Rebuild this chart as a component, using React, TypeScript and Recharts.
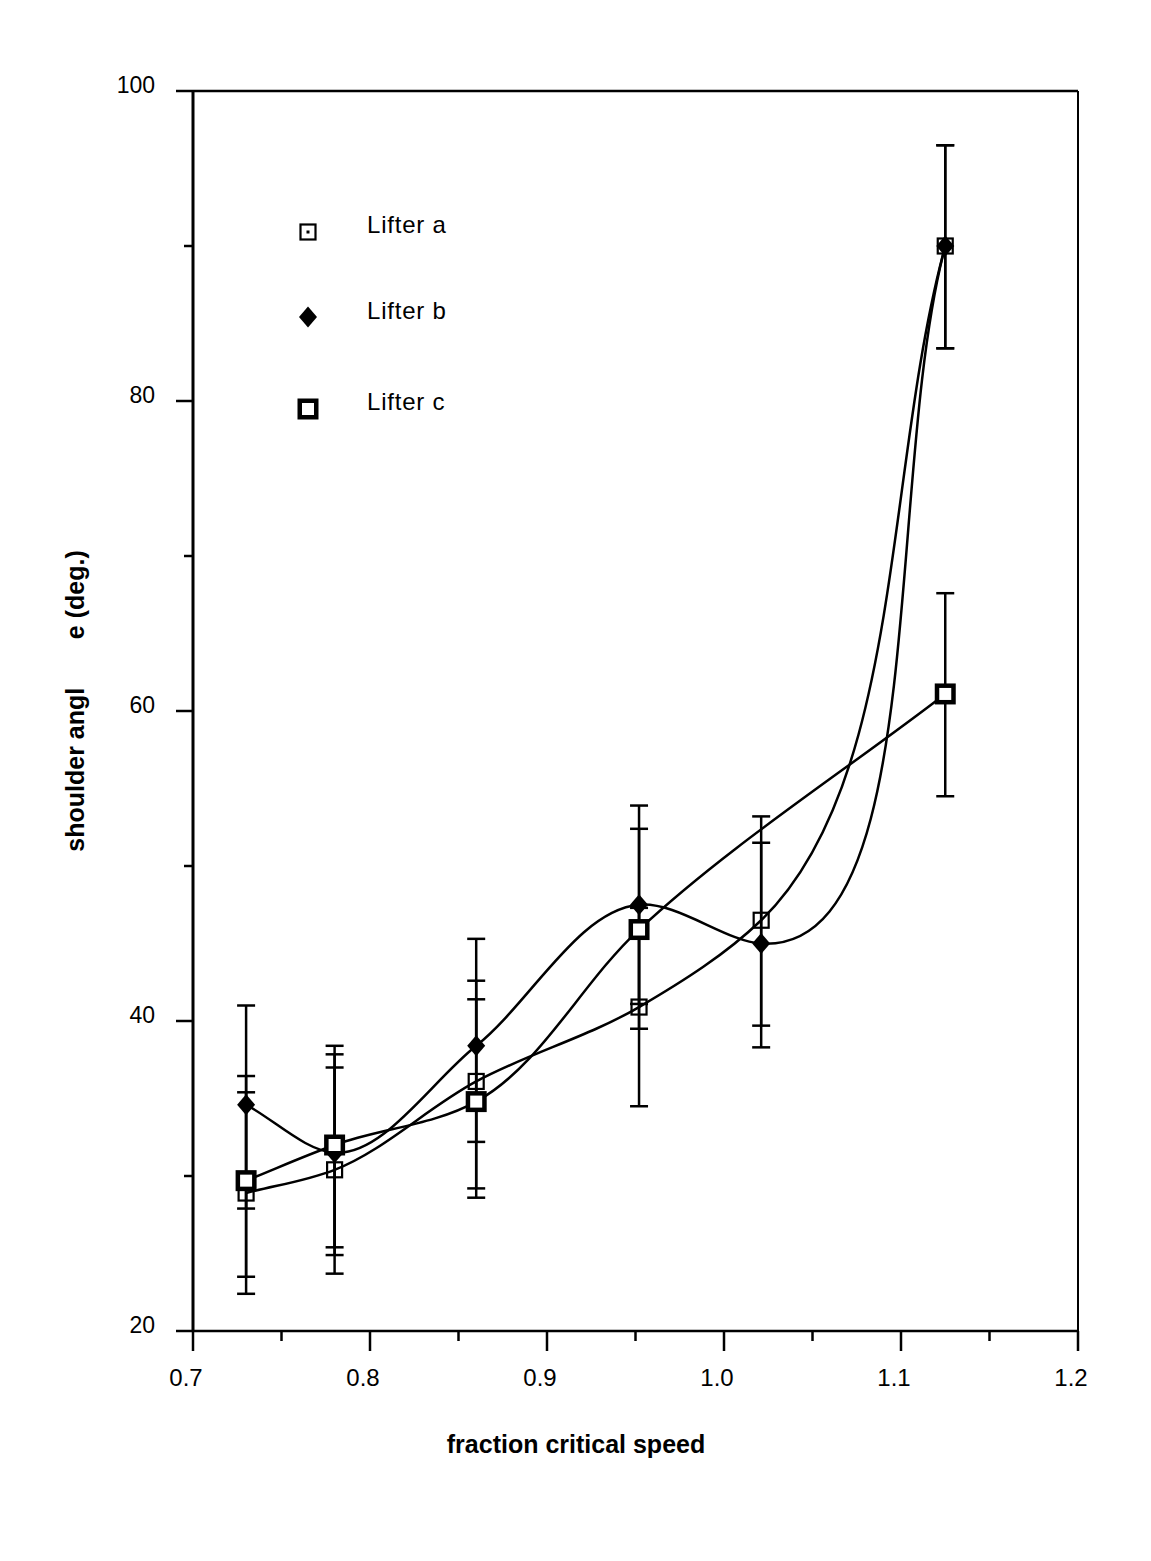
import React from 'react';
import {
  ComposedChart,
  Line,
  XAxis,
  YAxis,
  ErrorBar,
  ReferenceLine,
  Legend,
  Label,
} from 'recharts';

// Fraction of critical speed at which each lifter was measured
const speeds = [0.73, 0.78, 0.86, 0.952, 1.021, 1.125];

// Shoulder angle (deg.) with lower / upper error limits
const lifterA = [28.9, 30.4, 36.1, 40.9, 46.5, 90.0];
const lifterALow = [22.4, 23.7, 29.2, 34.5, 39.7, 83.4];
const lifterAHigh = [35.4, 37.0, 42.6, 47.3, 53.2, 96.5];

const lifterB = [34.6, 31.5, 38.4, 47.5, 45.0, 90.0];
const lifterBLow = [27.9, 24.9, 32.2, 41.1, 38.3, 83.4];
const lifterBHigh = [41.0, 37.85, 45.3, 53.9, 51.5, 96.5];

const lifterC = [29.7, 32.0, 34.8, 45.9, null, 61.1];
const lifterCLow = [23.5, 25.4, 28.6, 39.5, null, 54.5];
const lifterCHigh = [36.45, 38.4, 41.4, 52.4, null, 67.6];

const seriesNames = ['Lifter a', 'Lifter b', 'Lifter c'];

const xTicks = [0.7, 0.75, 0.8, 0.85, 0.9, 0.95, 1.0, 1.05, 1.1, 1.15, 1.2];
const yTicks = [20, 30, 40, 50, 60, 70, 80, 90, 100];

const FONT = '"Liberation Sans", Arial, Helvetica, sans-serif';

const errPair = (v: number | null, lo: number | null, hi: number | null) =>
  v == null || lo == null || hi == null ? null : [v - lo, hi - v];

const data = speeds.map((s, i) => ({
  speed: s,
  a: lifterA[i],
  aErr: errPair(lifterA[i], lifterALow[i], lifterAHigh[i]),
  b: lifterB[i],
  bErr: errPair(lifterB[i], lifterBLow[i], lifterBHigh[i]),
  c: lifterC[i],
  cErr: errPair(lifterC[i], lifterCLow[i], lifterCHigh[i]),
}));

// Catmull-Rom smoothing through the projected points (knot exponent ALPHA),
// with reflected phantom points at both ends.
const smoothSpline = (context: any) => {
  let pts: [number, number][] = [];
  const ALPHA = 0.9;
  return {
    areaStart() {},
    areaEnd() {},
    lineStart() {
      pts = [];
    },
    point(x: number, y: number) {
      pts.push([+x, +y]);
    },
    lineEnd() {
      const n = pts.length;
      if (!n) return;
      context.moveTo(pts[0][0], pts[0][1]);
      if (n === 1) return;
      if (n === 2) {
        context.lineTo(pts[1][0], pts[1][1]);
        return;
      }
      const reflect = (p: [number, number], q: [number, number]): [number, number] => [2 * p[0] - q[0], 2 * p[1] - q[1]];
      const dist = (p: [number, number], q: [number, number]) =>
        Math.max(1e-6, Math.pow(Math.hypot(q[0] - p[0], q[1] - p[1]), ALPHA));
      for (let i = 0; i < n - 1; i++) {
        const p0 = i > 0 ? pts[i - 1] : reflect(pts[0], pts[1]);
        const p1 = pts[i];
        const p2 = pts[i + 1];
        const p3 = i + 2 < n ? pts[i + 2] : reflect(pts[n - 1], pts[n - 2]);
        const d01 = dist(p0, p1);
        const d12 = dist(p1, p2);
        const d23 = dist(p2, p3);
        const m1 = [0, 1].map(
          (k) => d12 * ((p1[k] - p0[k]) / d01 - (p2[k] - p0[k]) / (d01 + d12) + (p2[k] - p1[k]) / d12)
        );
        const m2 = [0, 1].map(
          (k) => d12 * ((p2[k] - p1[k]) / d12 - (p3[k] - p1[k]) / (d12 + d23) + (p3[k] - p2[k]) / d23)
        );
        context.bezierCurveTo(
          p1[0] + m1[0] / 3,
          p1[1] + m1[1] / 3,
          p2[0] - m2[0] / 3,
          p2[1] - m2[1] / 3,
          p2[0],
          p2[1]
        );
      }
    },
  };
};

// Marker shapes
const SmallSquare = (cx: number, cy: number, dot = false) => (
  <g>
    <rect x={cx - 7.5} y={cy - 7.5} width={15} height={15} fill="none" stroke="#000" strokeWidth={2.2} />
    {dot && <rect x={cx - 1.5} y={cy - 1.5} width={3} height={3} fill="#000" />}
  </g>
);
const Diamond = (cx: number, cy: number) => (
  <polygon
    points={`${cx},${cy - 10.5} ${cx + 9},${cy} ${cx},${cy + 10.5} ${cx - 9},${cy}`}
    fill="#000"
  />
);
const ThickSquare = (cx: number, cy: number) => (
  <rect x={cx - 8.25} y={cy - 8.25} width={16.5} height={16.5} fill="#fff" stroke="#000" strokeWidth={4.5} />
);

const makeDot = (draw: (cx: number, cy: number) => React.ReactElement) => (props: any) => {
  const { cx, cy, value, index } = props;
  if (value == null || cx == null || cy == null || isNaN(cy)) return <g key={`d-${index}`} />;
  return <g key={`d-${index}`}>{draw(cx, cy)}</g>;
};

const isMajorX = (v: number) => Math.abs(v * 10 - Math.round(v * 10)) < 1e-6;

const XTick = (props: any) => {
  const { x, y, payload } = props;
  const v = payload.value as number;
  const major = isMajorX(v);
  return (
    <g>
      <line x1={x} x2={x} y1={y} y2={y + (major ? 20 : 10)} stroke="#000" strokeWidth={2.5} />
      {major && (
        <text x={x - 7} y={y + 55} textAnchor="middle" fontFamily={FONT} fontSize={24} fill="#000">
          {v.toFixed(1)}
        </text>
      )}
    </g>
  );
};

const YTick = (props: any) => {
  const { x, y, payload } = props;
  const v = payload.value as number;
  const major = v % 20 === 0;
  return (
    <g>
      <line x1={x - (major ? 17 : 9)} x2={x} y1={y} y2={y} stroke="#000" strokeWidth={2.5} />
      {major && (
        <text x={x - 38} y={y + 2} textAnchor="end" fontFamily={FONT} fontSize={23} fill="#000">
          {v}
        </text>
      )}
    </g>
  );
};

const LegendBox = () => {
  const rows = [
    { name: seriesNames[0], draw: (cx: number, cy: number) => SmallSquare(cx, cy, true), cy: 32, ty: 33 },
    { name: seriesNames[1], draw: Diamond, cy: 117, ty: 119 },
    { name: seriesNames[2], draw: ThickSquare, cy: 209, ty: 210 },
  ];
  return (
    <svg width={220} height={230} style={{ display: 'block' }}>
      {rows.map((r) => (
        <g key={r.name}>
          {r.draw(28, r.cy)}
          <text x={87} y={r.ty} fontFamily={FONT} fontSize={24} letterSpacing={0.8} fill="#000">
            {r.name}
          </text>
        </g>
      ))}
    </svg>
  );
};

export default function App() {
  return (
    <div style={{ position: 'absolute', left: 0, top: 0, width: 1151, height: 1561, background: '#fff' }}>
      <ComposedChart
        width={1151}
        height={1561}
        data={data}
        margin={{ top: 91, right: 73, bottom: 130, left: 93 }}
      >
        <XAxis
          dataKey="speed"
          type="number"
          domain={[0.7, 1.2]}
          ticks={xTicks}
          interval={0}
          height={100}
          tickSize={0}
          tickMargin={0}
          tickLine={false}
          axisLine={{ stroke: '#000', strokeWidth: 2.5 }}
          tick={<XTick />}
          allowDataOverflow
        >
          <Label
            content={() => (
              <text x={576} y={1453} textAnchor="middle" fontFamily={FONT} fontWeight="bold" fontSize={25} fill="#000">
                fraction critical speed
              </text>
            )}
          />
        </XAxis>
        <YAxis
          type="number"
          domain={[20, 100]}
          ticks={yTicks}
          interval={0}
          width={100}
          tickSize={0}
          tickMargin={0}
          tickLine={false}
          axisLine={{ stroke: '#000', strokeWidth: 3 }}
          tick={<YTick />}
          allowDataOverflow
        >
          <Label
            content={() => (
              <text
                x={84}
                y={701}
                transform="rotate(-90 84 701)"
                textAnchor="middle"
                fontFamily={FONT}
                fontWeight="bold"
                fontSize={25}
                fill="#000"
                style={{ whiteSpace: 'pre' }}
              >
                {'shoulder angl       e (deg.)'}
              </text>
            )}
          />
        </YAxis>
        <ReferenceLine y={100} stroke="#000" strokeWidth={2.5} />
        <ReferenceLine x={1.2} stroke="#000" strokeWidth={2} />

        <Line
          name={seriesNames[0]}
          dataKey="a"
          type={smoothSpline as any}
          stroke="#000"
          strokeWidth={2.5}
          dot={makeDot((cx, cy) => SmallSquare(cx, cy))}
          activeDot={false}
          isAnimationActive={false}
        >
          <ErrorBar dataKey="aErr" width={9} stroke="#000" strokeWidth={2.5} direction="y" />
        </Line>
        <Line
          name={seriesNames[1]}
          dataKey="b"
          type={smoothSpline as any}
          stroke="#000"
          strokeWidth={2.5}
          dot={makeDot(Diamond)}
          activeDot={false}
          isAnimationActive={false}
        >
          <ErrorBar dataKey="bErr" width={9} stroke="#000" strokeWidth={2.5} direction="y" />
        </Line>
        <Line
          name={seriesNames[2]}
          dataKey="c"
          type={smoothSpline as any}
          connectNulls
          stroke="#000"
          strokeWidth={2.5}
          dot={makeDot(ThickSquare)}
          activeDot={false}
          isAnimationActive={false}
        >
          <ErrorBar dataKey="cErr" width={9} stroke="#000" strokeWidth={2.5} direction="y" />
        </Line>

        <Legend
          layout="vertical"
          align="center"
          verticalAlign="middle"
          wrapperStyle={{ left: 280, top: 200, width: 220, height: 230 }}
          content={() => <LegendBox />}
        />
      </ComposedChart>
    </div>
  );
}
